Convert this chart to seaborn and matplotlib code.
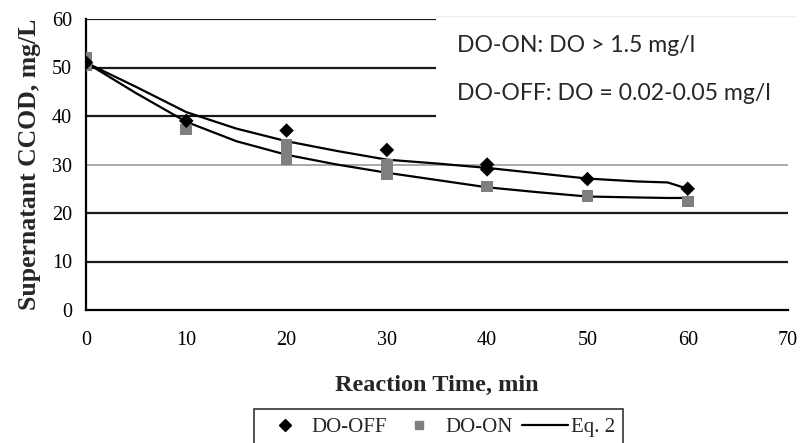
import matplotlib
matplotlib.use("Agg")
import matplotlib.pyplot as plt
from matplotlib.lines import Line2D
from matplotlib.patches import Rectangle
import seaborn as sns
import pandas as pd

# Measured supernatant CCOD (mg/L) vs reaction time (min)
time_off = [0, 10, 20, 30, 40, 40, 50, 60]
ccod_off = [51.0, 39.0, 37.0, 33.0, 30.0, 29.0, 27.0, 25.0]

time_on = [0, 0, 10, 20, 20, 20, 20, 30, 30, 30, 40, 50, 60]
ccod_on = [52.0, 50.5, 37.2, 34.0, 33.0, 32.0, 31.0, 30.0, 29.0, 28.0, 25.5, 23.5, 22.4]

# Eq. 2 model curves
fit_time = [0, 5, 10, 15, 20, 25, 30, 35, 40, 45, 50, 55, 58, 60]
fit_off = [51.0, 46.0, 40.8, 37.4, 34.8, 32.8, 31.0, 30.2, 29.3, 28.2, 27.1, 26.5, 26.3, 25.0]
fit_on = [51.0, 44.7, 38.8, 34.8, 32.0, 30.0, 28.3, 26.8, 25.3, 24.3, 23.4, 23.2, 23.1, 23.1]

y_ticks = [0, 10, 20, 30, 40, 50, 60]
x_ticks = [0, 10, 20, 30, 40, 50, 60, 70]

sns.set_theme(style="white")
plt.rcParams["font.family"] = ["Liberation Serif", "DejaVu Serif"]

fig = plt.figure(figsize=(8.01, 4.43), dpi=100)
ax = fig.add_axes([86 / 801, 1 - 310 / 443, (788 - 86) / 801, (310 - 19) / 443])

ax.set_xlim(0, 70)
ax.set_ylim(0, 60)

# horizontal gridlines, the 30 line lighter
for v in y_ticks[1:]:
    ax.axhline(v, color="#9a9a9a" if v == 30 else "#1a1a1a",
               lw=1.2 if v == 30 else 1.6, zorder=1)

fits = pd.DataFrame({"t": fit_time * 2,
                     "c": fit_off + fit_on,
                     "s": ["off"] * len(fit_time) + ["on"] * len(fit_time)})
sns.lineplot(data=fits, x="t", y="c", units="s", estimator=None, sort=False,
             color="black", lw=1.6, ax=ax, zorder=3, legend=False)

on_df = pd.DataFrame({"t": time_on, "c": ccod_on})
off_df = pd.DataFrame({"t": time_off, "c": ccod_off})
sns.scatterplot(data=on_df, x="t", y="c", marker="s", s=70, color="#7f7f7f",
                edgecolor="none", ax=ax, zorder=4, legend=False)
sns.scatterplot(data=off_df, x="t", y="c", marker="D", s=55, color="black",
                edgecolor="none", ax=ax, zorder=5, legend=False)

ax.set_xticks(x_ticks)
ax.set_yticks(y_ticks)
ax.tick_params(axis="both", labelsize=14.5, colors="black", length=5, width=1.2,
               direction="out")
ax.tick_params(axis="y", pad=5)
ax.tick_params(axis="x", pad=10)
for side in ("top", "right"):
    ax.spines[side].set_visible(False)
for side in ("left", "bottom"):
    ax.spines[side].set_color("black")
    ax.spines[side].set_linewidth(1.6)
ax.spines["bottom"].set_zorder(6)

ax.set_xlabel("Reaction Time, min", fontsize=17.5, fontweight="bold", labelpad=18)
ax.set_ylabel("Supernatant CCOD, mg/L", fontsize=18.5, fontweight="bold", labelpad=8)

# white panel holding the DO conditions
ax.add_patch(Rectangle((436 / 801, 1 - 124 / 443), (795 - 436) / 801, (124 - 16) / 443,
                       transform=fig.transFigure, facecolor="white",
                       edgecolor="none", zorder=7, clip_on=False))
ax.plot([436 / 801, 795 / 801], [1 - 16 / 443, 1 - 16 / 443], transform=fig.transFigure,
        color="#eeeeee", lw=0.8, zorder=7, clip_on=False)
fig.text(457 / 801, 1 - 46 / 443, "DO-ON: DO > 1.5 mg/l", fontsize=16.6,
         family=["Lato", "DejaVu Sans"], va="center", ha="left", zorder=8)
fig.text(457 / 801, 1 - 94 / 443, "DO-OFF: DO = 0.02-0.05 mg/l", fontsize=16.6,
         family=["Lato", "DejaVu Sans"], va="center", ha="left", zorder=8)

handles = [
    Line2D([], [], ls="none", marker="D", color="black", markersize=6),
    Line2D([], [], ls="none", marker="s", color="#7f7f7f", markersize=6),
    Line2D([], [], color="black", lw=1.6),
]
leg = fig.legend(handles, ["DO-OFF", "DO-ON", "Eq. 2"], ncol=3,
                 loc="upper left", bbox_to_anchor=(254 / 801, 1 - 409 / 443),
                 frameon=True, fancybox=False, edgecolor="black", fontsize=15,
                 handlelength=2.2, handletextpad=0.15, columnspacing=0.45,
                 borderpad=0.4, borderaxespad=0)
leg.get_frame().set_linewidth(1.2)

fig.savefig("out.png", dpi=100)
